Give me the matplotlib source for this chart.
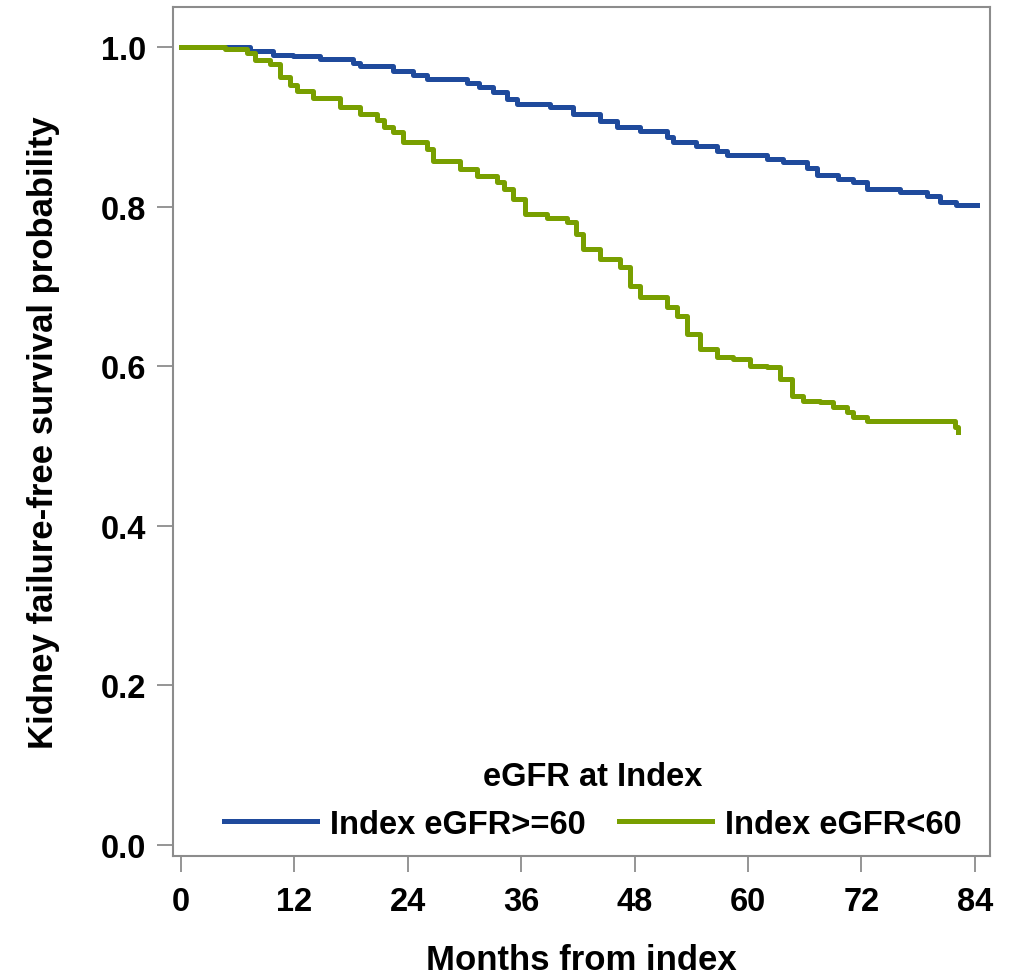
import matplotlib
matplotlib.use("Agg")
import matplotlib.pyplot as plt

plt.rcParams['font.family'] = ['Liberation Sans', 'DejaVu Sans']
plt.rcParams['font.weight'] = 'bold'

# Kaplan-Meier style step data
high_t = [0, 7.3, 9.7, 11.8, 14.7, 18.2, 18.9, 22.4, 24.5, 26.0, 30.3, 31.5, 33.0,
          34.5, 35.5, 39.0, 41.5, 44.3, 46.1, 48.6, 51.4, 52.1, 54.5, 56.7, 57.8,
          62.0, 63.7, 66.2, 67.3, 69.5, 71.1, 72.6, 76.1, 78.9, 80.3, 82.0, 84.2]
high_s = [1.0, 0.995, 0.990, 0.988, 0.985, 0.980, 0.976, 0.970, 0.965, 0.960, 0.955,
          0.950, 0.943, 0.935, 0.929, 0.925, 0.916, 0.907, 0.900, 0.895, 0.887, 0.881,
          0.876, 0.870, 0.865, 0.860, 0.856, 0.848, 0.840, 0.835, 0.831, 0.822, 0.818,
          0.813, 0.806, 0.802, 0.802]

low_t = [0, 4.7, 7.0, 7.8, 9.4, 10.5, 11.5, 12.3, 14.0, 16.8, 18.9, 20.7, 21.5, 22.4,
         23.5, 26.0, 26.7, 29.5, 31.3, 33.4, 34.2, 35.1, 36.4, 38.7, 40.8, 41.8, 42.5,
         44.3, 46.4, 47.5, 48.6, 51.4, 52.5, 53.5, 54.9, 56.7, 58.4, 60.2, 62.0, 63.4,
         64.7, 65.8, 67.6, 69.0, 70.5, 71.1, 72.6, 81.7, 81.9, 82.2]
low_s = [1.0, 0.997, 0.993, 0.983, 0.979, 0.962, 0.952, 0.945, 0.936, 0.925, 0.916,
         0.908, 0.900, 0.893, 0.881, 0.872, 0.857, 0.847, 0.838, 0.831, 0.822, 0.810,
         0.790, 0.786, 0.781, 0.765, 0.747, 0.734, 0.724, 0.700, 0.687, 0.674, 0.663,
         0.640, 0.622, 0.612, 0.609, 0.600, 0.599, 0.584, 0.562, 0.556, 0.555, 0.549,
         0.542, 0.536, 0.531, 0.531, 0.524, 0.517]

labels = ["Index eGFR>=60", "Index eGFR<60"]
colors = ["#1f4a9c", "#789f00"]
x_ticks = [0, 12, 24, 36, 48, 60, 72, 84]
y_ticks = [0.0, 0.2, 0.4, 0.6, 0.8, 1.0]

fig = plt.figure(figsize=(10.10, 9.79), dpi=100)
ax = fig.add_axes([0.1713, 0.1246, 0.8089, 0.8672])

ax.plot(high_t, high_s, drawstyle='steps-post', color=colors[0], lw=3.6, label=labels[0])
ax.plot(low_t, low_s, drawstyle='steps-post', color=colors[1], lw=3.6, label=labels[1])

ax.set_xlim(-0.85, 85.6)
ax.set_ylim(-0.014, 1.05)
ax.set_xticks(x_ticks)
ax.set_yticks(y_ticks)
ax.set_yticklabels([f"{v:.1f}" for v in y_ticks])

for s in ax.spines.values():
    s.set_color('#8c8c8c')
    s.set_linewidth(1.5)
ax.tick_params(axis='both', length=11.5, width=1.3, color='#8c8c8c', labelsize=23.5)
ax.tick_params(axis='y', pad=8)
ax.tick_params(axis='x', pad=10)

ax.set_xlabel("Months from index", fontsize=25, fontweight='bold', labelpad=19)
ax.set_ylabel("Kidney failure-free survival probability", fontsize=25, fontweight='bold', labelpad=29)

leg = ax.legend(loc='lower center', bbox_to_anchor=(0.514, 0.0), ncol=2, frameon=False,
                fontsize=23.5, title="eGFR at Index", title_fontsize=23.5,
                handlelength=2.85, handletextpad=0.4, columnspacing=1.0,
                borderaxespad=0.1)
leg.get_title().set_fontweight('bold')
for t in leg.get_texts():
    t.set_fontweight('bold')

fig.savefig("out.png", dpi=100)
